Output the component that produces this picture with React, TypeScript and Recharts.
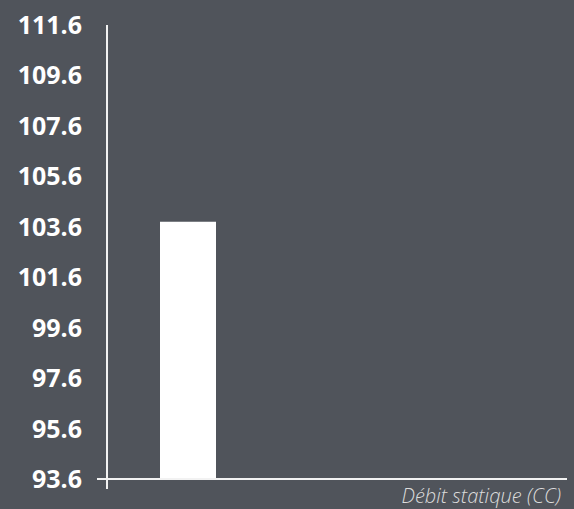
import React from "react";
import { BarChart, Bar, XAxis, YAxis } from "recharts";

const categories = ["Débit statique (CC)"];
const values = [103.8];
const yTicks = [93.6, 95.6, 97.6, 99.6, 101.6, 103.6, 105.6, 107.6, 109.6, 111.6];

const data = categories.map((name, i) => ({ name, value: values[i] }));

const BG = "#50545b";
const AXIS = "#f2f2f2";
const FONT = "'Open Sans', sans-serif";

// eslint-disable-next-line @typescript-eslint/no-explicit-any
function YTick(props: any) {
  const { x, y, payload } = props;
  const axisX = x + 24;
  const isBottom = payload.value === yTicks[0];
  return (
    <g>
      <text
        x={x - 1}
        y={y}
        dy={9}
        textAnchor="end"
        fill="#ffffff"
        fontFamily={FONT}
        fontWeight={700}
        fontSize={25}
      >
        {payload.value.toFixed(1)}
      </text>
      {isBottom && (
        <>
          <line x1={axisX - 10} y1={y} x2={axisX} y2={y} stroke={AXIS} strokeWidth={2} />
          <line x1={axisX} y1={y} x2={axisX} y2={y + 10} stroke={AXIS} strokeWidth={2} />
        </>
      )}
    </g>
  );
}

export default function App() {
  return (
    <div style={{ width: 574, height: 509, background: BG }}>
      <style>{`body { margin: 0; }`}</style>
      <BarChart
        width={574}
        height={509}
        data={data}
        margin={{ top: 25, right: 7, bottom: 0, left: 0 }}
      >
        <XAxis
          dataKey="name"
          tick={false}
          tickLine={false}
          axisLine={{ stroke: AXIS, strokeWidth: 2 }}
          height={30}
          padding={{ left: 0, right: 298 }}
          label={{
            value: "Débit statique (CC)",
            position: "insideBottomRight",
            offset: 6,
            fill: "#dcdcdc",
            fontFamily: FONT,
            fontStyle: "italic",
            fontWeight: 300,
            fontSize: 20,
          }}
        />
        <YAxis
          type="number"
          domain={[93.6, 111.6]}
          ticks={yTicks}
          interval={0}
          width={107}
          tickLine={false}
          tickSize={10}
          tickMargin={14}
          axisLine={{ stroke: AXIS, strokeWidth: 2 }}
          tick={<YTick />}
        />
        <Bar dataKey="value" fill="#ffffff" barSize={56} isAnimationActive={false} />
      </BarChart>
    </div>
  );
}
